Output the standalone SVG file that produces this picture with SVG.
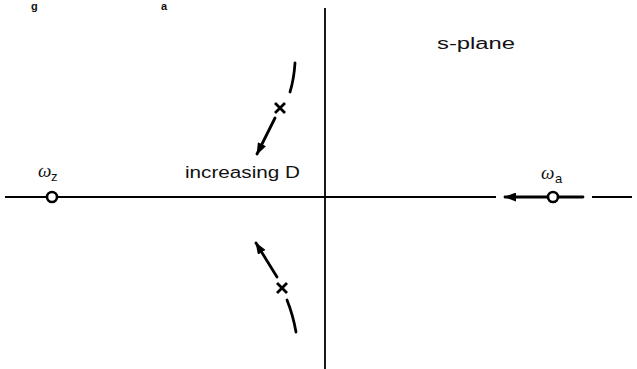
<svg xmlns="http://www.w3.org/2000/svg" width="637" height="369" viewBox="0 0 637 369">
<style>
.ax{stroke:#000;stroke-width:1.8;fill:none}
.loc{stroke:#000;stroke-width:2.8;fill:none;stroke-linecap:round}
.pole{stroke:#000;stroke-width:2.8;fill:none;stroke-linecap:butt}
.zero{stroke:#000;stroke-width:2.6;fill:#fff}
.lbl{font-family:"Century Gothic","Liberation Sans",Arial,sans-serif;font-size:16px;fill:#111}
.om{font-family:"Liberation Serif","Times New Roman",serif;font-style:italic;font-size:19px;fill:#111}
.sub{font-family:"Liberation Sans",Arial,sans-serif;font-size:13px;fill:#111}
.frag{font-family:"Liberation Sans",Arial,sans-serif;font-size:11px;font-weight:bold;fill:#111}
</style>
<defs>
<marker id="ah" viewBox="0 0 12 9" refX="11" refY="4.5" markerWidth="12" markerHeight="9" markerUnits="userSpaceOnUse" orient="auto">
<path d="M0,0 L12,4.5 L0,9 z" fill="#000"/>
</marker>
</defs>
<rect width="637" height="369" fill="#fff"/>
<text x="31" y="10" class="frag">g</text>
<text x="161" y="10" class="frag">a</text>
<g id="axes">
<line class="ax" x1="325" y1="8" x2="325" y2="369"/>
<line class="ax" x1="5" y1="197" x2="496" y2="197"/>
<line class="ax" x1="592" y1="197" x2="632" y2="197"/>
</g>
<g id="connectors">
<line class="loc" x1="583" y1="197" x2="505" y2="197" stroke-linecap="butt" marker-end="url(#ah)"/>
<path class="loc" d="M295,63 Q294,79 290,92"/>
<path class="loc" d="M275,118 L257,154" stroke-linecap="butt" marker-end="url(#ah)"/>
<path class="loc" d="M277,277 L256,243" stroke-linecap="butt" marker-end="url(#ah)"/>
<path class="loc" d="M287,300 Q293,315 296,332"/>
</g>
<g id="zero-z">
<circle class="zero" cx="52" cy="197" r="5"/>
<text class="om" x="38" y="177">ω</text><text class="sub" x="51" y="181">z</text>
</g>
<g id="zero-a">
<circle class="zero" cx="553" cy="197" r="5"/>
<text class="om" x="541" y="179">ω</text><text class="sub" x="555" y="183">a</text>
</g>
<g id="pole-upper">
<path class="pole" d="M275,103 L285,113 M285,103 L275,113"/>
</g>
<g id="pole-lower">
<path class="pole" d="M277,283 L287,293 M287,283 L277,293"/>
</g>
<g id="labels">
<text class="lbl" x="185" y="178" textLength="115" lengthAdjust="spacingAndGlyphs">increasing D</text>
<text class="lbl" x="437" y="49" textLength="78" lengthAdjust="spacingAndGlyphs">s-plane</text>
</g>
</svg>
